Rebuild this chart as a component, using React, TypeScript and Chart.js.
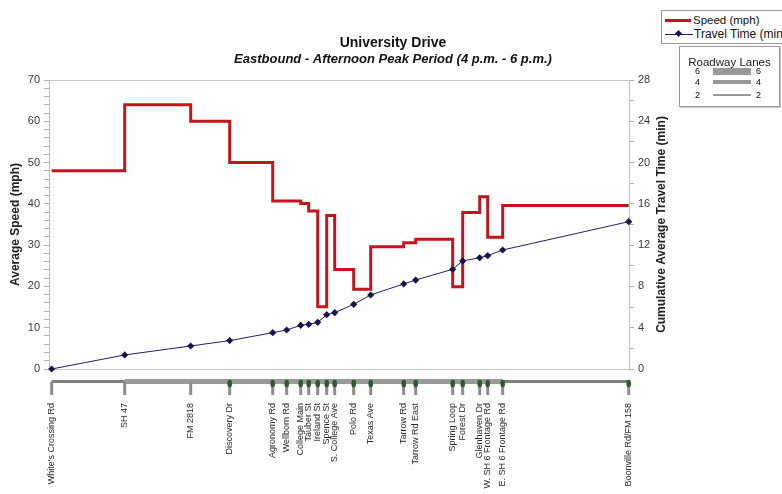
import React, { useEffect, useRef } from 'react';
import { Chart, registerables } from 'chart.js';

Chart.register(...registerables);

// ---- data -------------------------------------------------------------
const intersections = [
  "White's Crossing Rd", 'SH 47', 'FM 2818', 'Discovery Dr', 'Agronomy Rd', 'Wellborn Rd',
  'College Main', 'Tauber St', 'Ireland St', 'Spence St', 'S. College Ave', 'Polo Rd',
  'Texas Ave', 'Tarrow Rd', 'Tarrow Rd East', 'Spring Loop', 'Forest Dr', 'Glenhaven Dr',
  'W. SH 6 Frontage Rd', 'E. SH 6 Frontage Rd', 'Boonville Rd/FM 158',
];
// distance along the corridor (mi)
const distanceMi = [
  0, 0.73, 1.39, 1.78, 2.21, 2.35, 2.49, 2.57, 2.66, 2.75, 2.83, 3.02,
  3.19, 3.52, 3.64, 4.01, 4.11, 4.28, 4.36, 4.51, 5.77,
];
// average speed on the segment that starts at each intersection (last repeats to the end)
const speedMph = [
  48, 64, 60, 50, 40.7, 40.7, 40.1, 38.3, 15.1, 37.2, 24.1, 19.3,
  29.6, 30.6, 31.4, 19.9, 37.9, 41.7, 31.9, 39.6, 39.6,
];
// cumulative average travel time at each intersection (min)
const travelTimeMin = [
  0, 1.36, 2.23, 2.75, 3.52, 3.78, 4.23, 4.33, 4.52, 5.26, 5.46, 6.27,
  7.17, 8.24, 8.62, 9.66, 10.47, 10.78, 10.98, 11.53, 14.27,
];
// roadway lanes on the segment that starts at each intersection
const roadwayLanes = [4, 6, 6, 6, 6, 6, 6, 6, 6, 6, 6, 6, 6, 6, 6, 6, 6, 6, 6, 4, 4];
// signalized intersections
const signalized = [
  false, false, false, true, true, true, true, true, true, true, true, true,
  true, true, true, true, true, true, true, true, true,
];
const speedTicks = [0, 10, 20, 30, 40, 50, 60, 70];
const timeTicks = [0, 4, 8, 12, 16, 20, 24, 28];

const TITLE = 'University Drive';
const SUBTITLE = 'Eastbound - Afternoon Peak Period (4 p.m. - 6 p.m.)';
const LEFT_TITLE = 'Average Speed (mph)';
const RIGHT_TITLE = 'Cumulative Average Travel Time (min)';
const LEGEND_LANES = [6, 4, 2];

// ---- layout / style constants -------------------------------------------
const FONT = '"Liberation Sans", Arial, Helvetica, sans-serif';
const RED = '#c3161c';
const NAVY = '#1f1f66';
// offsets below the plot, on a hidden lane scale measured in px
const LANE_BAR_Y = -12.5;
const LANE_TICK_BOTTOM = -26;
const SIGNAL_TOP = -13;
const SIGNAL_BOTTOM = -16;
const laneWidth = (n: number) => (n >= 6 ? 5 : n >= 4 ? 2.8 : 1.5);
const laneColor = (n: number) => (n >= 6 ? '#9a9a9a' : '#7e7e7e');

const rightTitlePlugin = {
  id: 'rightTitle',
  afterDraw(chart: any) {
    const { ctx, chartArea } = chart;
    const s = chart.scales.y2;
    ctx.save();
    ctx.translate(s.left + 33, (chartArea.top + chartArea.bottom) / 2);
    ctx.rotate(-Math.PI / 2);
    ctx.textAlign = 'center';
    ctx.textBaseline = 'middle';
    ctx.font = `bold 12px ${FONT}`;
    ctx.fillStyle = '#222';
    ctx.fillText(RIGHT_TITLE, 0, 0);
    ctx.restore();
  },
};

function Legend() {
  const text: React.CSSProperties = {
    position: 'absolute',
    fontFamily: FONT,
    fontSize: 11.5,
    lineHeight: '13px',
    color: '#111',
    whiteSpace: 'nowrap',
  };
  return (
    <>
      <div
        style={{
          position: 'absolute', left: 661, top: 10, width: 160, height: 32,
          border: '1px solid #9a9a9a', background: '#fff',
        }}
      >
        <div style={{ position: 'absolute', left: 3, top: 7.5, width: 26, height: 3, background: RED }} />
        <div style={{ ...text, left: 31, top: 2.5 }}>Speed (mph)</div>
        <div style={{ position: 'absolute', left: 3, top: 22.5, width: 28, height: 1, background: NAVY }} />
        <div
          style={{
            position: 'absolute', left: 13.5, top: 20, width: 5, height: 5,
            background: '#14144a', transform: 'rotate(45deg)',
          }}
        />
        <div style={{ ...text, left: 32, top: 16.5, fontSize: 12 }}>Travel Time (min)</div>
      </div>
      <div
        style={{
          position: 'absolute', left: 679, top: 46, width: 99, height: 59,
          border: '1px solid #9a9a9a', background: '#fff', boxShadow: '1px 1px 0 #c8c8c8',
        }}
      >
        <div style={{ ...text, left: 0, width: 99, top: 9, textAlign: 'center', color: '#222', fontSize: 11.5 }}>Roadway Lanes</div>
        {LEGEND_LANES.map((n, i) => {
          const cy = [24, 35, 48][i];
          const h = [7, 4, 2][i];
          return (
            <React.Fragment key={n}>
              <div style={{ ...text, fontSize: 9, lineHeight: '10px', left: 15, top: cy - 5 }}>{n}</div>
              <div style={{ position: 'absolute', left: 33, width: 38, top: cy - h / 2, height: h, background: '#999' }} />
              <div style={{ ...text, fontSize: 9, lineHeight: '10px', left: 76, top: cy - 5 }}>{n}</div>
            </React.Fragment>
          );
        })}
      </div>
    </>
  );
}

export default function App() {
  const ref = useRef<HTMLCanvasElement>(null);

  useEffect(() => {
    const canvas = ref.current;
    if (!canvas) return;
    Chart.defaults.font.family = FONT;
    const idx = intersections.map((_, i) => i);

    // vertical marks below the axis: pairs of points separated by gaps
    const tickMarks = idx.flatMap((i) => [
      { x: distanceMi[i], y: LANE_BAR_Y },
      { x: distanceMi[i], y: LANE_TICK_BOTTOM },
      { x: distanceMi[i], y: null as any },
    ]);
    const signalMarks = idx
      .filter((i) => signalized[i])
      .flatMap((i) => [
        { x: distanceMi[i], y: SIGNAL_TOP },
        { x: distanceMi[i], y: SIGNAL_BOTTOM },
        { x: distanceMi[i], y: null as any },
      ]);

    const chart = new Chart(canvas, {
      type: 'line',
      data: {
        datasets: [
          {
            label: 'Travel Time (min)',
            data: idx.map((i) => ({ x: distanceMi[i], y: travelTimeMin[i] })),
            xAxisID: 'x',
            yAxisID: 'y2',
            borderColor: NAVY,
            borderWidth: 1,
            pointStyle: 'rectRot',
            pointRadius: 3.6,
            pointBackgroundColor: '#14144a',
            pointBorderColor: '#14144a',
            pointBorderWidth: 0,
            clip: false as any,
            order: 0,
          },
          {
            label: 'Speed (mph)',
            data: idx.map((i) => ({ x: distanceMi[i], y: speedMph[i] })),
            xAxisID: 'x',
            yAxisID: 'y',
            stepped: 'before',
            borderColor: RED,
            borderWidth: 3,
            pointRadius: 0,
            order: 1,
          },
          {
            label: 'lanes',
            data: idx.map((i) => ({ x: distanceMi[i], y: LANE_BAR_Y })),
            xAxisID: 'x',
            yAxisID: 'yLane',
            borderColor: laneColor(6),
            borderWidth: laneWidth(6),
            pointRadius: 0,
            segment: {
              borderWidth: (c: any) => laneWidth(roadwayLanes[c.p0DataIndex]),
              borderColor: (c: any) => laneColor(roadwayLanes[c.p0DataIndex]),
            },
            clip: false as any,
            order: 5,
          },
          {
            label: 'intersection ticks',
            data: tickMarks,
            xAxisID: 'x',
            yAxisID: 'yLane',
            borderColor: '#8c8c8c',
            borderWidth: 3,
            pointRadius: 0,
            spanGaps: false,
            clip: false as any,
            order: 4,
          },
          {
            label: 'signals',
            data: signalMarks,
            xAxisID: 'x',
            yAxisID: 'yLane',
            borderColor: '#2f5a30',
            borderWidth: 4.5,
            borderCapStyle: 'round',
            pointRadius: 0,
            spanGaps: false,
            clip: false as any,
            order: 3,
          },
        ],
      },
      options: {
        responsive: false,
        animation: false,
        events: [],
        layout: { padding: { left: 4, right: 0, top: 0, bottom: 0 } },
        plugins: {
          legend: { display: false },
          tooltip: { enabled: false },
          title: {
            display: true,
            text: TITLE,
            color: '#111',
            font: { size: 14, weight: 'bold' },
            padding: { top: 34.5, bottom: 0 },
          },
          subtitle: {
            display: true,
            text: SUBTITLE,
            color: '#111',
            font: { size: 13, weight: 'bold', style: 'italic' },
            padding: { top: 0, bottom: 13.1 },
          },
        },
        scales: {
          x: {
            type: 'linear',
            position: 'bottom',
            min: -0.027,
            max: 5.773,
            afterBuildTicks: (s: any) => {
              s.ticks = distanceMi.map((v) => ({ value: v }));
            },
            afterFit: (s: any) => {
              s.height = 125;
            },
            grid: { display: false, drawTicks: false },
            border: { display: true, color: '#c8c8c8', width: 1 },
            ticks: {
              autoSkip: false,
              minRotation: 90,
              maxRotation: 90,
              padding: 34,
              color: '#2a2a2a',
              font: { size: 9 },
              callback: (_v: any, i: number) => intersections[i],
            },
          },
          xTop: {
            type: 'linear',
            position: 'top',
            min: 0,
            max: 1,
            afterFit: (s: any) => {
              s.height = 0;
            },
            grid: { display: false, drawTicks: false },
            border: { display: true, color: '#c8c8c8', width: 1 },
            ticks: { display: false },
          },
          y: {
            position: 'left',
            min: 0,
            max: 70,
            afterFit: (s: any) => {
              s.width = 45;
            },
            grid: { drawOnChartArea: false, drawTicks: true, tickLength: 5, tickColor: '#b0b0b0' },
            border: { display: true, color: '#c0c0c0', width: 1 },
            ticks: {
              stepSize: 2,
              autoSkip: false,
              padding: 4,
              color: '#3a3a3a',
              font: { size: 11 },
              callback: (v: any) => (speedTicks.includes(v) ? String(v) : ''),
            },
            title: {
              display: true,
              text: LEFT_TITLE,
              color: '#222',
              font: { size: 12, weight: 'bold' },
              padding: { top: 4, bottom: 0 },
            },
          },
          y2: {
            position: 'right',
            min: 0,
            max: 28,
            afterFit: (s: any) => {
              s.width = 153;
            },
            grid: { drawOnChartArea: false, drawTicks: true, tickLength: 5, tickColor: '#b0b0b0' },
            border: { display: true, color: '#c0c0c0', width: 1 },
            ticks: {
              stepSize: 2,
              autoSkip: false,
              padding: 4,
              color: '#3a3a3a',
              font: { size: 11 },
              callback: (v: any) => (timeTicks.includes(v) ? String(v) : ''),
            },
          },
          yLane: {
            display: false,
            min: 0,
            max: 289,
          },
        },
      } as any,
      plugins: [rightTitlePlugin],
    });

    return () => chart.destroy();
  }, []);

  return (
    <div
      style={{
        position: 'fixed', left: 0, top: 0, width: 782, height: 494,
        overflow: 'hidden', background: '#fff',
      }}
    >
      <canvas ref={ref} width={782} height={494} style={{ display: 'block', width: 782, height: 494 }} />
      <Legend />
    </div>
  );
}
